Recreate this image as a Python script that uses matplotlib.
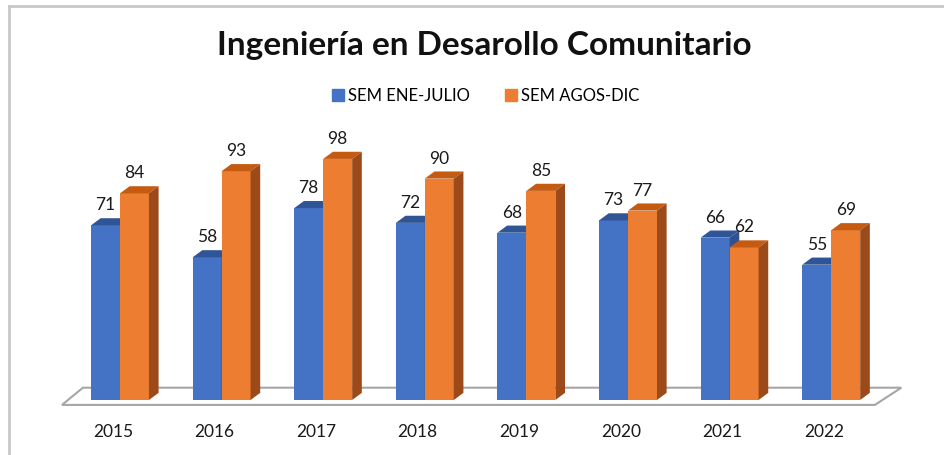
import matplotlib.pyplot as plt
from matplotlib.patches import Polygon
from matplotlib.lines import Line2D

plt.rcParams['font.family'] = ['Lato', 'DejaVu Sans']

# datos
years = ['2015', '2016', '2017', '2018', '2019', '2020', '2021', '2022']
ene_julio = [71, 58, 78, 72, 68, 73, 66, 55]
agos_dic = [84, 93, 98, 90, 85, 77, 62, 69]
series_names = ['SEM ENE-JULIO', 'SEM AGOS-DIC']

# colores (front, top, side)
blue = ('#4472C4', '#2F5597', '#2F528F')
orange = ('#ED7D31', '#C55A11', '#9C4A1A')

fig = plt.figure(figsize=(9.44, 4.55), dpi=100)
ax = fig.add_axes([0, 0, 1, 1])
ax.set_xlim(-1.181, 8.110)
ax.set_ylim(-22.36, 162.6)
ax.axis('off')

bw = 0.285      # ancho de cada barra
dx, dy = 0.095, 2.9   # profundidad 3D

# piso
floor = Polygon([(-0.571, -2), (7.43, -2), (7.69, 5), (-0.365, 5)],
                closed=True, facecolor='white', edgecolor='#A6A6A6', lw=1.5, zorder=1)
ax.add_patch(floor)


def bar3d(x0, v, cols):
    x1 = x0 + bw
    ax.add_patch(Polygon([(x0, 0), (x1, 0), (x1, v), (x0, v)], closed=True,
                         facecolor=cols[0], edgecolor='none', zorder=2))
    ax.add_patch(Polygon([(x0, v), (x1, v), (x1 + dx, v + dy), (x0 + dx, v + dy)], closed=True,
                         facecolor=cols[1], edgecolor='none', zorder=2))
    ax.add_patch(Polygon([(x1, 0), (x1 + dx, dy), (x1 + dx, v + dy), (x1, v)], closed=True,
                         facecolor=cols[2], edgecolor='none', zorder=2))
    ax.text(x0 + bw / 2, v + dy + 2.0, f'{v}', ha='center', va='bottom',
            fontsize=12.5, color='#1a1a1a', zorder=3)


for i, yr in enumerate(years):
    bar3d(i - bw, ene_julio[i], blue)
    bar3d(i, agos_dic[i], orange)
    ax.text(i - 0.07, -13, yr, ha='center', va='center', fontsize=12.5, color='#1a1a1a')

# titulo
fig.text(0.513, 0.9, 'Ingeniería en Desarollo Comunitario', ha='center', va='center',
         fontsize=24, fontweight='bold', color='#111111')

# leyenda
handles = [Line2D([], [], marker='s', ls='none', color=blue[0], markersize=9),
           Line2D([], [], marker='s', ls='none', color=orange[0], markersize=9)]
fig.legend(handles, series_names, loc='center', bbox_to_anchor=(0.513, 0.79), ncol=2,
           frameon=False, fontsize=12, handletextpad=0.1, columnspacing=2.0, handlelength=1)

# borde del grafico
fig.add_artist(Line2D([9 / 944, 1], [1 - 6 / 455, 1 - 6 / 455], transform=fig.transFigure,
                      color='#C8C8C8', lw=2))
fig.add_artist(Line2D([9 / 944, 9 / 944], [0, 1 - 6 / 455], transform=fig.transFigure,
                      color='#C8C8C8', lw=2))

fig.savefig('out.png', dpi=100)
